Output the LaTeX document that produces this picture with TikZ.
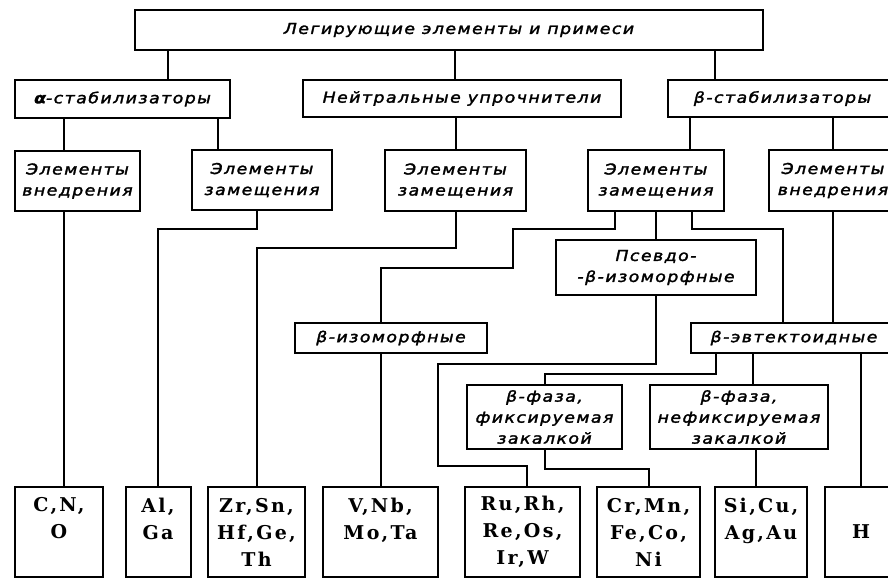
\documentclass[tikz,border=0pt]{standalone}
\usepackage{fontspec}
\newfontfamily\hand[FakeStretch=1.15,LetterSpace=10,FakeBold=2]{DejaVu Sans}
\newfontfamily\elem[LetterSpace=12]{DejaVu Serif}
\tikzset{
  box/.style={draw, line width=2pt, inner sep=0pt, align=center,
    font=\hand\itshape\fontsize{15}{21}\selectfont},
  elbox/.style={draw, line width=2pt, inner sep=0pt, align=center,
    minimum height=90pt, font=\elem\bfseries\fontsize{19}{27}\selectfont},
  link/.style={line width=2pt}
}
\begin{document}
\begin{tikzpicture}[x=1pt,y=-1pt]
\useasboundingbox[fill=white] (0,0) rectangle (888,579);
% level 1
\node[box, minimum width=628pt, minimum height=40pt] (top) at (449,30) {\hspace*{20pt}Легирующие элементы и примеси};
% level 2
\node[box, minimum width=215pt, minimum height=38pt] (alpha) at (122.5,99) {\textbf{α}-стабилизаторы};
\node[box, minimum width=318pt, minimum height=37pt] (neutral) at (462,98.5) {Нейтральные упрочнители};
\node[box, minimum width=229pt, minimum height=37pt] (beta) at (782.5,98.5) {β-стабилизаторы};
% level 3
\node[box, minimum width=125pt, minimum height=60pt] (vn1) at (77.5,181) {Элементы\\внедрения};
\node[box, minimum width=140pt, minimum height=60pt] (zm1) at (262,180) {Элементы\\замещения};
\node[box, minimum width=141pt, minimum height=61pt] (zm2) at (455.5,180.5) {Элементы\\замещения};
\node[box, minimum width=136pt, minimum height=61pt] (zm3) at (656,180.5) {Элементы\\замещения};
\node[box, minimum width=128pt, minimum height=61pt] (vn2) at (833,180.5) {Элементы\\внедрения};
% level 4
\node[box, minimum width=200pt, minimum height=55pt] (pseudo) at (656,267.5) {Псевдо-\\-β-изоморфные};
\node[box, minimum width=192pt, minimum height=30pt] (iso) at (391,338) {β-изоморфные};
\node[box, minimum width=206pt, minimum height=30pt] (eut) at (794,338) {β-эвтектоидные};
\node[box, minimum width=155pt, minimum height=64pt] (fix) at (544.5,417) {β-фаза,\\фиксируемая\\закалкой};
\node[box, minimum width=178pt, minimum height=64pt] (nofix) at (739,417) {β-фаза,\\нефиксируемая\\закалкой};
% bottom
\node[elbox, minimum width=88pt] (b1) at (59,532) {C,N,\\O\\\phantom{O}};
\node[elbox, minimum width=65pt] (b2) at (158,532) {Al,\\Ga\\\phantom{O}};
\node[elbox, minimum width=97pt] (b3) at (256.5,532) {Zr,Sn,\\Hf,Ge,\\Th};
\node[elbox, minimum width=115pt] (b4) at (380.5,532) {V,Nb,\\Mo,Ta\\\phantom{O}};
\node[elbox, minimum width=115pt] (b5) at (522.5,532) {Ru,Rh,\\Re,Os,\\Ir,W};
\node[elbox, minimum width=103pt] (b6) at (648.5,532) {Cr,Mn,\\Fe,Co,\\Ni};
\node[elbox, minimum width=92pt] (b7) at (761,532) {Si,Cu,\\Ag,Au\\\phantom{O}};
\node[elbox, minimum width=72pt] (b8) at (861,532) {H};
% connectors level 1-2
\draw[link] ([xshift=45.5pt]alpha.north) -- ([xshift=45.5pt]alpha.north |- top.south);
\draw[link] ([xshift=-7pt]neutral.north) -- ([xshift=-7pt]neutral.north |- top.south);
\draw[link] ([xshift=-67.5pt]beta.north) -- ([xshift=-67.5pt]beta.north |- top.south);
% level 2-3
\draw[link] ([xshift=-13.5pt]vn1.north) -- ([xshift=-13.5pt]vn1.north |- alpha.south);
\draw[link] ([xshift=-44pt]zm1.north) -- ([xshift=-44pt]zm1.north |- alpha.south);
\draw[link] (zm2.north) -- (zm2.north |- neutral.south);
\draw[link] ([xshift=34pt]zm3.north) -- ([xshift=34pt]zm3.north |- beta.south);
\draw[link] (vn2.north) -- (vn2.north |- beta.south);
% lower
\draw[link] ([xshift=-13.5pt]vn1.south) -- ([xshift=-13.5pt]vn1.south |- b1.north);
\draw[link] ([xshift=-5pt]zm1.south) -- ++(0,18) -| (b2.north);
\draw[link] (zm2.south) -- ++(0,36) -| (b3.north);
\draw[link] ([xshift=-41pt]zm3.south) -- ++(0,17) -- ++(-102,0) -- ++(0,39) -| (iso.north -| b4.north);
\draw[link] (iso.south -| b4.north) -- (b4.north);
\draw[link] (zm3.south) -- (pseudo.north);
\draw[link] ([xshift=36pt]zm3.south) -- ++(0,17) -| ([xshift=-11pt]eut.north);
\draw[link] (vn2.south) -- (vn2.south |- eut.north);
\draw[link] (pseudo.south) -- ++(0,68) -- ++(-218,0) -- ++(0,102) -| ([xshift=4.5pt]b5.north);
\draw[link] ([xshift=-78pt]eut.south) -- ++(0,20) -| (fix.north);
\draw[link] ([xshift=14pt]nofix.north |- eut.south) -- ([xshift=14pt]nofix.north);
\draw[link] (b8.north |- eut.south) -- (b8.north);
\draw[link] (fix.south) -- ++(0,19) -| (b6.north);
\draw[link] ([xshift=17pt]nofix.south) -- ([xshift=17pt]nofix.south |- b7.north);
\end{tikzpicture}
\end{document}
